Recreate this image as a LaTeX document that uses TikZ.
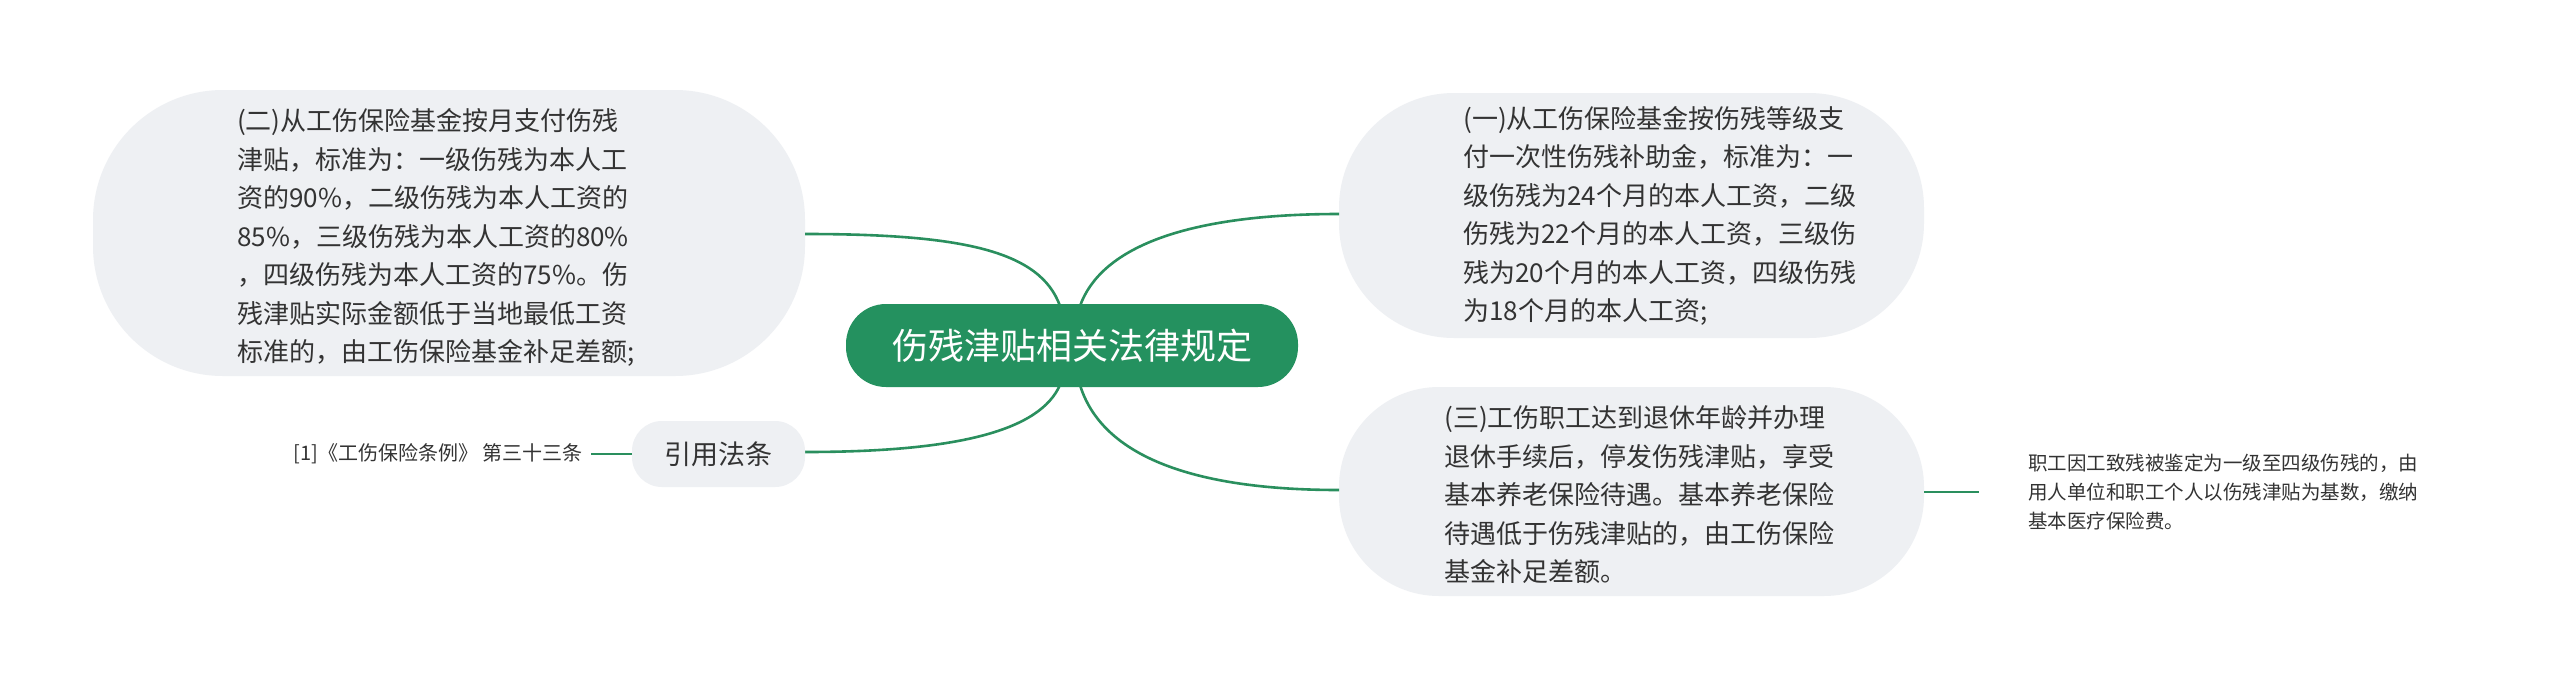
\documentclass[tikz,border=0pt]{standalone}
\usepackage{fontspec}
\setmainfont{Noto Sans CJK SC}
\begin{document}
\begin{tikzpicture}[x=1pt,y=-1pt,
  bub/.style={fill=bubfill,draw=none},
  txt/.style={anchor=west,align=left,inner sep=0pt,text=txtc,font=\fontsize{26}{38.5}\selectfont},
  small/.style={inner sep=0pt,text=txtc,font=\fontsize{20}{28.6}\selectfont},
  link/.style={draw=linkc,line width=2.6pt}]
\definecolor{bubfill}{HTML}{EEF0F3}
\definecolor{linkc}{HTML}{2A8F5E}
\definecolor{centc}{HTML}{24915F}
\definecolor{txtc}{HTML}{333333}
\useasboundingbox (0,0) rectangle (2560,689);
\fill[white] (0,0) rectangle (2560,689);
% bubbles
\fill[bub,rounded corners=130pt] (93,90) rectangle (805,376);
\fill[bub,rounded corners=115pt] (1339,93) rectangle (1924,338);
\fill[bub,rounded corners=100pt] (1339,387) rectangle (1924,596);
% connectors
\coordinate (c1) at (1060,306);
\coordinate (c2) at (1080,306);
\coordinate (c3) at (1060,385);
\coordinate (c4) at (1080,385);
\coordinate (e1) at (805,234);
\coordinate (e2) at (1339,214);
\coordinate (e3) at (1339,490);
\coordinate (e4) at (805,452);
\draw[link] (c1) .. controls (1040,250) and (960,234) .. (e1);
\draw[link] (c2) .. controls (1100,250) and (1180,214) .. (e2);
\draw[link] (c4) .. controls (1100,450) and (1180,490) .. (e3);
\draw[link] (c3) .. controls (1040,430) and (960,452) .. (e4);
% center
\node[fill=centc,rounded corners=40pt,minimum width=452pt,minimum height=83pt,text=white,font=\fontsize{36}{40}\selectfont,inner sep=0pt] (root) at (1072,345.5) {伤残津贴相关法律规定};
\node[txt] (n2) at (237,237.6) {(二)从工伤保险基金按月支付伤残\\津贴，标准为：一级伤残为本人工\\资的90\%，二级伤残为本人工资的\\85\%，三级伤残为本人工资的80\%\\，四级伤残为本人工资的75\%。伤\\残津贴实际金额低于当地最低工资\\标准的，由工伤保险基金补足差额;};
\node[txt] (n1) at (1463,216) {(一)从工伤保险基金按伤残等级支\\付一次性伤残补助金，标准为：一\\级伤残为24个月的本人工资，二级\\伤残为22个月的本人工资，三级伤\\残为20个月的本人工资，四级伤残\\为18个月的本人工资;};
\node[txt] (n3) at (1444,495) {(三)工伤职工达到退休年龄并办理\\退休手续后，停发伤残津贴，享受\\基本养老保险待遇。基本养老保险\\待遇低于伤残津贴的，由工伤保险\\基金补足差额。};
\node[fill=bubfill,rounded corners=30pt,minimum width=173pt,minimum height=66pt,text=txtc,font=\fontsize{27}{30}\selectfont,inner sep=0pt] (ref) at (718.5,454) {引用法条};
\node[small,anchor=east] (leafL) at (583,454) {[1]《工伤保险条例》 第三十三条};
\node[small,anchor=west,align=left,font=\fontsize{19.5}{28.6}\selectfont] (leafR) at (2028,492) {职工因工致残被鉴定为一级至四级伤残的，由\\用人单位和职工个人以伤残津贴为基数，缴纳\\基本医疗保险费。};
\draw[link] (ref.west) -- (leafL.east -| 591,0) ;
\draw[link] (1924,492) -- (leafR.west -| 1979,0);
\end{tikzpicture}
\end{document}
